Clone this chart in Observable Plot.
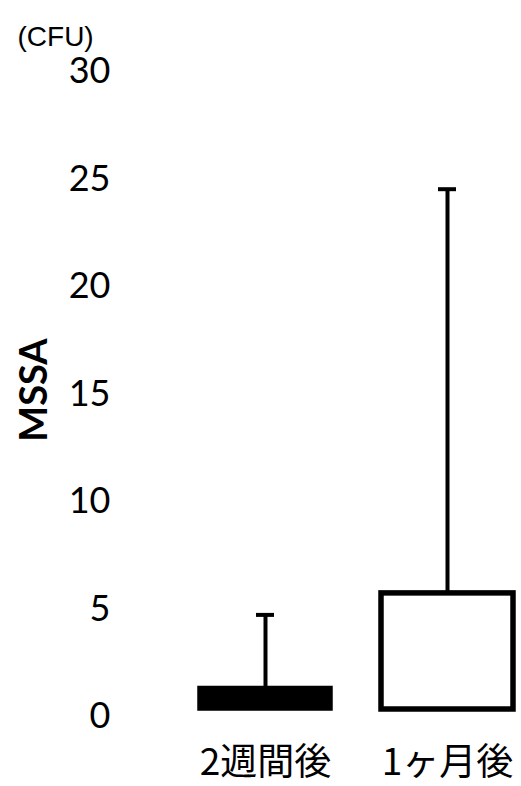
<!DOCTYPE html>
<html>
<head>
<meta charset="utf-8">
<script src="https://cdn.jsdelivr.net/npm/d3@7"></script>
<script src="https://cdn.jsdelivr.net/npm/@observablehq/plot@0.6"></script>
<style>
  html, body { margin: 0; padding: 0; background: #fff; }
  #chart svg { display: block; }
</style>
</head>
<body>
<div id="chart"></div>
<script>
const categories = ["2週間後", "1ヶ月後"];
const means = [1.0, 5.4];
const sds = [3.4, 18.8];
const fills = ["black", "white"];
const yTicks = [0, 5, 10, 15, 20, 25, 30];
const yLabel = "MSSA";
const unitLabel = "(CFU)";

const data = categories.map((c, i) => ({cat: c, mean: means[i], top: means[i] + sds[i], fill: fills[i]}));

const chart = Plot.plot({
  width: 521,
  height: 786,
  marginLeft: 198,
  marginRight: 7,
  marginTop: 64,
  marginBottom: 77,
  style: {background: "white", color: "black"},
  x: {domain: categories, paddingInner: 0.273, paddingOuter: 0, axis: null},
  y: {domain: [0, 30], axis: null},
  color: {type: "identity"},
  marks: [
    Plot.axisY({
      ticks: yTicks, tickSize: 0, tickPadding: 88, dy: 7,
      fontSize: 36, fontFamily: "Lato, 'Open Sans', sans-serif",
      label: null
    }),
    Plot.axisX({
      tickSize: 0, tickPadding: 39, fontSize: 37,
      fontFamily: "'Noto Sans CJK JP', sans-serif", label: null
    }),
    Plot.ruleX(data, {x: "cat", y1: "mean", y2: "top", stroke: "black", strokeWidth: 4}),
    Plot.tickY(data, {x: "cat", y: "top", stroke: "black", strokeWidth: 4, insetLeft: 57, insetRight: 57}),
    Plot.barY(data.filter(d => d.fill === "black"), {x: "cat", y: "mean", fill: "fill", stroke: "black", strokeWidth: 3.5}),
    Plot.barY(data.filter(d => d.fill !== "black"), {x: "cat", y: "mean", fill: "fill", stroke: "black", strokeWidth: 5.5}),
    Plot.text([yLabel], {frameAnchor: "left", rotate: -90, textAnchor: "middle", lineAnchor: "middle",
      dx: -164, dy: 3, fontSize: 38, fontWeight: "bold", fontFamily: "Lato, 'Open Sans', sans-serif", fill: "black"}),
    Plot.text([unitLabel], {frameAnchor: "top-left", textAnchor: "start", lineAnchor: "middle",
      dx: -181, dy: -27, fontSize: 28, fontFamily: "'Liberation Sans', Arial, sans-serif", fill: "black"})
  ]
});

document.getElementById("chart").appendChild(chart);
</script>
</body>
</html>
